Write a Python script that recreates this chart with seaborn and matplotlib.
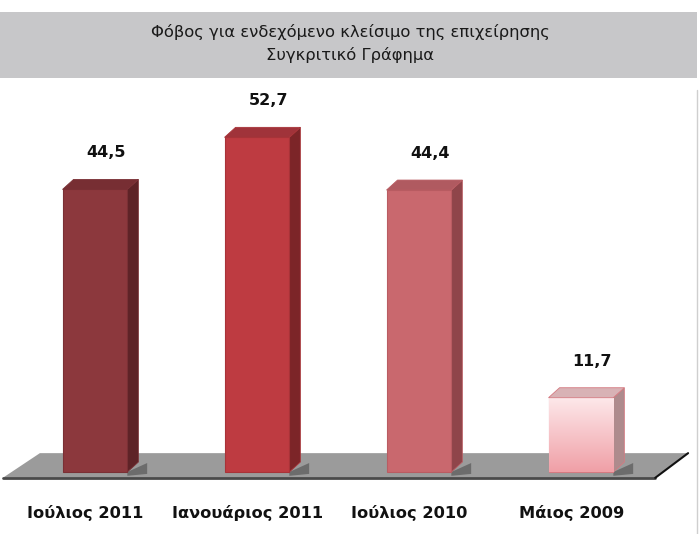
import numpy as np
import pandas as pd
import seaborn as sns
import matplotlib.pyplot as plt
from matplotlib.patches import Polygon, Rectangle

# data
periods = ['Ιούλιος 2011', 'Ιανουάριος 2011', 'Ιούλιος 2010', 'Μάιος 2009']
fear = [44.5, 52.7, 44.4, 11.7]
value_labels = ['44,5', '52,7', '44,4', '11,7']
title_lines = ['Φόβος για ενδεχόμενο κλείσιμο της επιχείρησης', 'Συγκριτικό Γράφημα']

front_cols = ['#8c383d', '#be3b41', '#c9686e', '#f6b9be']
side_cols = ['#5e2327', '#7c2528', '#8f454a', '#ae8b8d']
top_cols = ['#772e33', '#a0333a', '#b05a60', '#d8b2b5']
edge_cols = ['#7a3035', '#a83338', '#b95c62', '#d57a81']

df = pd.DataFrame({'period': periods, 'fear': fear})

sns.set_style('white')
plt.rcParams['font.family'] = ['DejaVu Sans']

fig = plt.figure(figsize=(7, 5.34), dpi=100)
ax = fig.add_axes([0, 44 / 534, 1, 405 / 534])

sns.barplot(data=df, x='period', y='fear', hue='period', palette=front_cols,
            width=0.4, legend=False, ax=ax, zorder=3, saturation=1)

ax.set_xlim(-0.586, 3.735)
ax.set_ylim(-2.835, 60.94)

# floor (grey slab)
floor = Polygon([(0.004, 0.030), (0.057, 0.091), (0.983, 0.091), (0.936, 0.030)],
                closed=True, transform=ax.transAxes, facecolor='#9b9b9b',
                edgecolor='none', zorder=1)
ax.add_patch(floor)
ax.plot([0.004, 0.936], [0.030, 0.030], transform=ax.transAxes, color='#4a4a4a', lw=2, zorder=2)
ax.plot([0.936, 0.983], [0.030, 0.091], transform=ax.transAxes, color='#111111', lw=1.5, zorder=2)

# 3d look: depth offsets in data units
dx, dy = 0.068, 1.57
bars = [q for q in ax.patches if isinstance(q, Rectangle)][:len(fear)]
for i, p in enumerate(bars):
    x0 = p.get_x()
    w = p.get_width()
    h = p.get_height()
    p.set_edgecolor(edge_cols[i])
    p.set_linewidth(0.8)
    # shadow on floor
    shadow = Polygon([(x0 + w, 0), (x0 + w + dx * 1.8, dy * 0.9), (x0 + w + dx * 1.8, -0.3), (x0 + w, -0.6)],
                     closed=True, facecolor='#4d4d4d', alpha=0.6, edgecolor='none', zorder=2)
    ax.add_patch(shadow)
    side = Polygon([(x0 + w, 0), (x0 + w + dx, dy), (x0 + w + dx, h + dy), (x0 + w, h)],
                   closed=True, facecolor=side_cols[i], edgecolor=edge_cols[i], lw=0.6, zorder=2.5)
    ax.add_patch(side)
    top = Polygon([(x0, h), (x0 + dx, h + dy), (x0 + w + dx, h + dy), (x0 + w, h)],
                  closed=True, facecolor=top_cols[i], edgecolor=edge_cols[i], lw=0.6, zorder=3.5)
    ax.add_patch(top)
    if i == 3:
        cmap = sns.blend_palette(['#f0a0a7', '#fde8ea'], as_cmap=True)
        im = ax.imshow(np.linspace(0, 1, 100).reshape(-1, 1), cmap=cmap, aspect='auto',
                       extent=(x0, x0 + w, 0, h), origin='lower', zorder=3.2)
        im.set_clip_path(p)
    ax.annotate(value_labels[i], (x0 + w / 2 + 0.07, h), xytext=(0, 21),
                textcoords='offset points', ha='center', va='bottom',
                fontsize=11.5, fontweight='bold', color='#111111')

ax.set_xlabel('')
ax.set_ylabel('')
ax.set_yticks([])
ax.set_xticks(np.arange(len(periods)) - 0.06)
ax.set_xticklabels(periods, fontsize=11.7, fontweight='bold', color='#111111')
ax.tick_params(axis='x', length=0, pad=11)
sns.despine(ax=ax, left=True, bottom=True)
ax.set_facecolor('none')

# title band
fig.patches.append(Rectangle((0, (534 - 78) / 534), 697 / 700, 66 / 534,
                             transform=fig.transFigure, facecolor='#c7c7c9',
                             edgecolor='none', zorder=0))
fig.text(0.5, (534 - 32) / 534, title_lines[0], ha='center', va='center',
         fontsize=11.8, color='#1a1a1a')
fig.text(0.5, (534 - 55) / 534, title_lines[1], ha='center', va='center',
         fontsize=11.8, color='#1a1a1a')
fig.lines.append(plt.Line2D([697 / 700, 697 / 700], [0, (534 - 90) / 534],
                            transform=fig.transFigure, color='#cfcfcf', lw=1))

fig.savefig('out.png', dpi=100)
